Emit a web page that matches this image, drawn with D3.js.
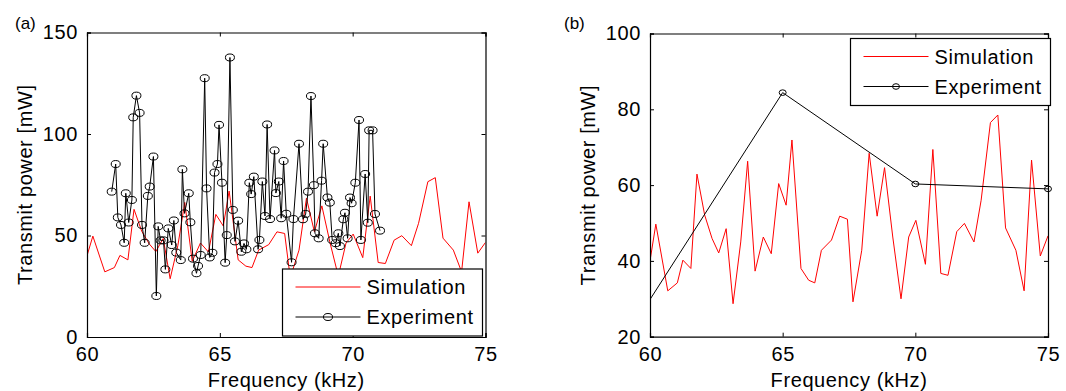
<!DOCTYPE html>
<html>
<head>
<meta charset="utf-8">
<script src="https://cdn.jsdelivr.net/npm/d3@7"></script>
<style>
    body { margin: 0; background: #fff; }
    svg text { font-family: "Liberation Sans", Arial, sans-serif; fill: #000; }
</style>
</head>
<body>
<svg id="chart" width="1066" height="391"></svg>
<script>
// simulation (same curve in both panels)
const simFreq = [60.00, 60.22, 60.67, 61.03, 61.24, 61.54, 61.77, 62.06, 62.34, 62.59, 62.87, 63.13, 63.42, 63.68, 63.96, 64.27, 64.57, 64.85, 65.13, 65.35, 65.69, 65.98, 66.21, 66.46, 66.84, 67.15, 67.44, 67.65, 67.98, 68.26, 68.56, 68.84, 69.15, 69.46, 69.75, 70.02, 70.38, 70.66, 70.96, 71.23, 71.56, 71.85, 72.21, 72.48, 72.83, 73.11, 73.40, 73.79, 74.10, 74.38, 74.71, 75.00];
const simPower = [40.0, 49.7, 32.1, 34.2, 40.2, 38.0, 62.9, 52.1, 45.9, 42.1, 48.5, 28.7, 45.0, 66.3, 37.3, 46.3, 41.9, 60.4, 54.7, 71.9, 38.0, 34.9, 34.2, 42.8, 45.5, 51.8, 51.0, 29.2, 42.8, 68.4, 51.8, 64.6, 46.3, 30.0, 46.3, 50.7, 39.1, 69.4, 36.7, 36.2, 47.7, 49.9, 45.0, 56.0, 76.5, 78.5, 48.7, 42.8, 32.1, 66.6, 41.3, 46.6];

// experiment, panel (a)
const expFreqA = [60.93, 61.08, 61.16, 61.28, 61.40, 61.46, 61.57, 61.69, 61.74, 61.86, 61.98, 62.07, 62.17, 62.29, 62.36, 62.50, 62.61, 62.68, 62.77, 62.88, 62.95, 63.06, 63.19, 63.27, 63.36, 63.53, 63.59, 63.67, 63.83, 63.89, 63.99, 64.12, 64.18, 64.28, 64.43, 64.50, 64.62, 64.72, 64.80, 64.91, 64.97, 65.08, 65.20, 65.26, 65.38, 65.49, 65.57, 65.69, 65.81, 65.91, 66.00, 66.11, 66.18, 66.28, 66.44, 66.49, 66.60, 66.70, 66.78, 66.89, 67.06, 67.11, 67.22, 67.31, 67.40, 67.50, 67.70, 67.77, 67.98, 68.13, 68.23, 68.32, 68.43, 68.54, 68.58, 68.72, 68.83, 68.89, 69.05, 69.14, 69.23, 69.36, 69.46, 69.52, 69.65, 69.71, 69.81, 69.90, 69.96, 70.10, 70.24, 70.31, 70.47, 70.57, 70.62, 70.75, 70.84, 71.03];
const expPowerA = [71.6, 85.2, 58.9, 55.2, 46.4, 70.8, 56.4, 67.5, 108.2, 118.9, 110.4, 55.2, 46.4, 69.5, 74.1, 88.9, 20.2, 54.5, 47.6, 47.6, 33.3, 53.5, 45.3, 57.4, 41.6, 37.9, 82.6, 60.9, 70.8, 56.5, 38.6, 31.4, 35.0, 40.4, 127.5, 73.2, 39.2, 41.5, 81.0, 85.2, 104.5, 76.0, 36.6, 50.2, 137.7, 62.6, 47.1, 57.3, 42.0, 46.1, 43.2, 76.0, 70.4, 79.0, 43.2, 47.8, 76.6, 59.6, 104.7, 58.1, 91.9, 70.9, 76.6, 58.5, 86.7, 60.7, 36.8, 58.1, 95.2, 58.0, 60.6, 71.6, 118.7, 74.8, 51.1, 48.6, 77.0, 95.2, 68.7, 66.2, 47.8, 46.2, 51.1, 44.8, 58.0, 61.2, 48.6, 68.7, 65.9, 76.0, 106.9, 47.8, 80.3, 56.3, 101.8, 101.8, 60.6, 52.4];

// experiment, panel (b) (first point lies outside the axes)
const expFreqB = [59.0, 65.0, 70.0, 75.0];
const expPowerB = [18.9, 84.4, 60.3, 59.0];

const xTicks = [60, 65, 70, 75];
const yTicksA = [0, 50, 100, 150];
const yTicksB = [20, 40, 60, 80, 100];

const svg = d3.select("#chart");

function drawPanel(opt) {
    const x = d3.scaleLinear().domain([60, 75]).range([opt.left, opt.right]);
    const y = d3.scaleLinear().domain(opt.yDomain).range([opt.bottom, opt.top]);
    const g = svg.append("g");

    g.append("clipPath").attr("id", opt.id + "-clip")
        .append("rect")
        .attr("x", opt.left).attr("y", opt.top)
        .attr("width", opt.right - opt.left).attr("height", opt.bottom - opt.top);

    const line = d3.line().x(d => x(d[0])).y(d => y(d[1]));
    const sim = simFreq.map((f, i) => [f, simPower[i]]);
    const exp = opt.expFreq.map((f, i) => [f, opt.expPower[i]]);

    g.append("path").datum(sim)
        .attr("clip-path", `url(#${opt.id}-clip)`)
        .attr("d", line).attr("fill", "none").attr("stroke", "#ff0000").attr("stroke-width", 1);

    g.append("path").datum(exp)
        .attr("clip-path", `url(#${opt.id}-clip)`)
        .attr("d", line).attr("fill", "none").attr("stroke", "#000").attr("stroke-width", 1);

    g.selectAll("ellipse.mk").data(exp.filter(d => d[0] >= 60 && d[0] <= 75))
        .enter().append("ellipse")
        .attr("cx", d => x(d[0])).attr("cy", d => y(d[1]))
        .attr("rx", opt.mrx).attr("ry", opt.mry)
        .attr("fill", "none").attr("stroke", "#000").attr("stroke-width", 1);

    // axes, MATLAB style: ticks inside, box on
    const fs = "20px";
    const ls = "0.6px";
    const bottom = g.append("g").attr("transform", `translate(0,${opt.bottom})`)
        .call(d3.axisBottom(x).tickValues(xTicks).tickSize(-4).tickPadding(10).tickFormat(d3.format("d")));
    const left = g.append("g").attr("transform", `translate(${opt.left},0)`)
        .call(d3.axisLeft(y).tickValues(opt.yTicks).tickSize(-4).tickPadding(9).tickFormat(d3.format("d")));
    g.append("g").attr("transform", `translate(0,${opt.top})`)
        .call(d3.axisTop(x).tickValues(xTicks).tickSize(-4).tickFormat(""));
    g.append("g").attr("transform", `translate(${opt.right},0)`)
        .call(d3.axisRight(y).tickValues(opt.yTicks).tickSize(-4).tickFormat(""));
    g.selectAll(".domain").attr("stroke", "#000").attr("stroke-width", 1.2);
    g.selectAll(".tick line").attr("stroke", "#000");
    [bottom, left].forEach(a => a.selectAll("text")
        .style("font-family", "Liberation Sans, Arial, sans-serif")
        .style("font-size", fs).style("letter-spacing", ls).attr("fill", "#000"));

    g.append("text")
        .attr("transform", `translate(${opt.left - 62},${(opt.top + opt.bottom) / 2}) rotate(-90)`)
        .attr("text-anchor", "middle").attr("dy", "0.35em")
        .style("font-size", fs).style("letter-spacing", ls).text("Transmit power [mW]");

    g.append("text")
        .attr("x", (opt.left + opt.right) / 2).attr("y", 387)
        .attr("text-anchor", "middle")
        .style("font-size", fs).style("letter-spacing", ls).text("Frequency (kHz)");

    g.append("text")
        .attr("x", opt.tagX).attr("y", 29)
        .style("font-size", "17px").text(opt.tag);

    // legend
    const lg = g.append("g").attr("transform", `translate(${opt.legX},${opt.legY})`);
    lg.append("rect").attr("width", 200).attr("height", 67)
        .attr("fill", "#fff").attr("stroke", "#000").attr("stroke-width", 1.2);
    lg.append("line").attr("x1", 13).attr("x2", 78).attr("y1", 18).attr("y2", 18)
        .attr("stroke", "#ff0000");
    lg.append("line").attr("x1", 13).attr("x2", 78).attr("y1", 48).attr("y2", 48)
        .attr("stroke", "#000");
    lg.append("ellipse").attr("cx", 45.5).attr("cy", 48).attr("rx", opt.mrx).attr("ry", opt.mry)
        .attr("fill", "none").attr("stroke", "#000");
    lg.append("text").attr("x", 84).attr("y", 18).attr("dy", "0.35em")
        .style("font-size", fs).style("letter-spacing", ls).text("Simulation");
    lg.append("text").attr("x", 84).attr("y", 48).attr("dy", "0.35em")
        .style("font-size", fs).style("letter-spacing", ls).text("Experiment");
}

drawPanel({
    id: "pa", tag: "(a)", tagX: 15,
    left: 87, right: 485.5, top: 32.5, bottom: 337,
    yDomain: [0, 150], yTicks: yTicksA,
    expFreq: expFreqA, expPower: expPowerA,
    mrx: 4.5, mry: 3.5,
    legX: 282.5, legY: 269
});

drawPanel({
    id: "pb", tag: "(b)", tagX: 564,
    left: 650, right: 1048, top: 33.5, bottom: 336.7,
    yDomain: [20, 100], yTicks: yTicksB,
    expFreq: expFreqB, expPower: expPowerB,
    mrx: 3.5, mry: 2.8,
    legX: 850.5, legY: 38.5
});
</script>
</body>
</html>
